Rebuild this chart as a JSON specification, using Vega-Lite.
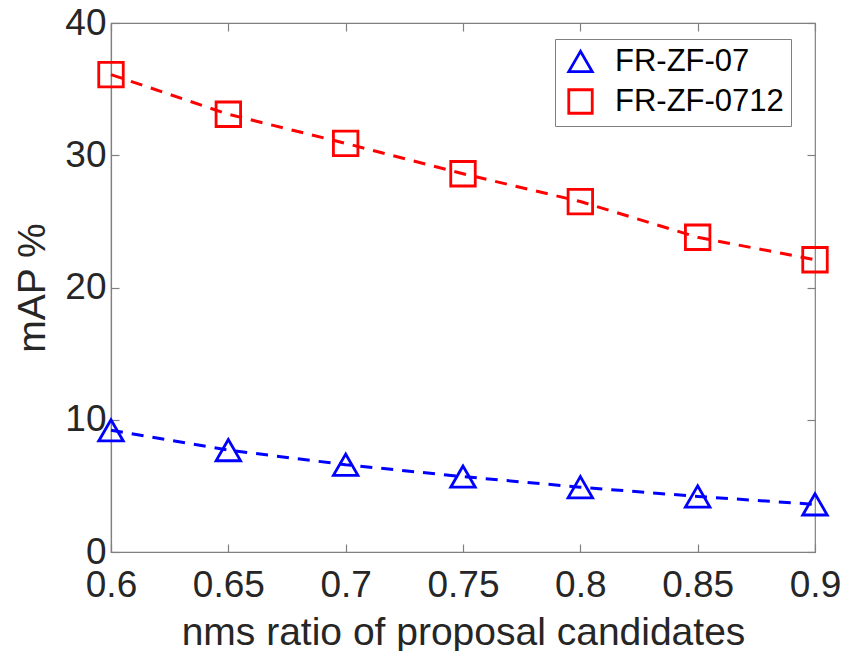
{
  "$schema": "https://vega.github.io/schema/vega-lite/v6.json",
  "autosize": {"type": "none"},
  "width": 704,
  "height": 529,
  "padding": {"left": 111, "top": 23, "right": 26, "bottom": 99},
  "background": "white",
  "config": {
    "font": "Liberation Sans",
    "view": {"stroke": "#808080", "strokeWidth": 1.2},
    "axis": {"grid": false, "domainColor": "#808080", "tickColor": "#808080", "tickSize": -8, "labelColor": "#262626", "titleColor": "#262626", "labelFont": "Liberation Sans", "titleFont": "Liberation Sans", "labelFontSize": 37, "titleFontSize": 39, "titleFontWeight": "normal", "domainWidth": 1.2, "tickWidth": 1.2},
    "legend": {"title": null, "orient": "none", "legendX": 444, "legendY": 16, "strokeColor": "#808080", "fillColor": "white", "padding": 7, "labelFontSize": 31, "labelColor": "black", "labelFont": "Liberation Sans", "labelLimit": 0, "symbolSize": 550, "symbolStrokeWidth": 2.8, "rowPadding": 6, "labelOffset": 19, "symbolOffset": 3, "symbolFillColor": "white"}
  },
  "data": {
    "values": [
      {"x": 0.6, "y": 9.2, "s": "FR-ZF-07"},
      {"x": 0.65, "y": 7.7, "s": "FR-ZF-07"},
      {"x": 0.7, "y": 6.6, "s": "FR-ZF-07"},
      {"x": 0.75, "y": 5.7, "s": "FR-ZF-07"},
      {"x": 0.8, "y": 4.9, "s": "FR-ZF-07"},
      {"x": 0.85, "y": 4.2, "s": "FR-ZF-07"},
      {"x": 0.9, "y": 3.6, "s": "FR-ZF-07"},
      {"x": 0.6, "y": 36.1, "s": "FR-ZF-0712"},
      {"x": 0.65, "y": 33.1, "s": "FR-ZF-0712"},
      {"x": 0.7, "y": 30.9, "s": "FR-ZF-0712"},
      {"x": 0.75, "y": 28.6, "s": "FR-ZF-0712"},
      {"x": 0.8, "y": 26.5, "s": "FR-ZF-0712"},
      {"x": 0.85, "y": 23.8, "s": "FR-ZF-0712"},
      {"x": 0.9, "y": 22.1, "s": "FR-ZF-0712"}
    ]
  },
  "layer": [
    {
      "mark": {"type": "line", "strokeDash": [12, 9], "strokeWidth": 3},
      "encoding": {
        "x": {"field": "x", "type": "quantitative", "scale": {"domain": [0.6, 0.9], "nice": false, "zero": false}, "axis": {"values": [0.6, 0.65, 0.7, 0.75, 0.8, 0.85, 0.9], "labelExpr": "datum.value", "title": "nms ratio of proposal candidates", "labelPadding": 23, "titlePadding": 10, "labelFlush": false}},
        "y": {"field": "y", "type": "quantitative", "scale": {"domain": [0, 40], "nice": false}, "axis": {"values": [0, 10, 20, 30, 40], "title": "mAP %", "labelPadding": 13, "titlePadding": 12, "labelFlush": false}},
        "color": {"field": "s", "type": "nominal", "scale": {"domain": ["FR-ZF-07", "FR-ZF-0712"], "range": ["#0000FF", "#FF0000"]}}
      }
    },
    {
      "mark": {"type": "point", "filled": false, "strokeWidth": 2.8, "opacity": 1, "size": 600},
      "encoding": {
        "x": {"field": "x", "type": "quantitative", "axis": {"orient": "top", "values": [0.6, 0.65, 0.7, 0.75, 0.8, 0.85, 0.9], "labels": false, "title": null, "domain": false}},
        "y": {"field": "y", "type": "quantitative", "axis": {"orient": "right", "values": [0, 10, 20, 30, 40], "labels": false, "title": null, "domain": false}},
        "color": {"field": "s", "type": "nominal"},
        "shape": {"field": "s", "type": "nominal", "scale": {"domain": ["FR-ZF-07", "FR-ZF-0712"], "range": ["triangle-up", "square"]}}
      }
    }
  ],
  "resolve": {"axis": {"x": "independent", "y": "independent"}}
}
